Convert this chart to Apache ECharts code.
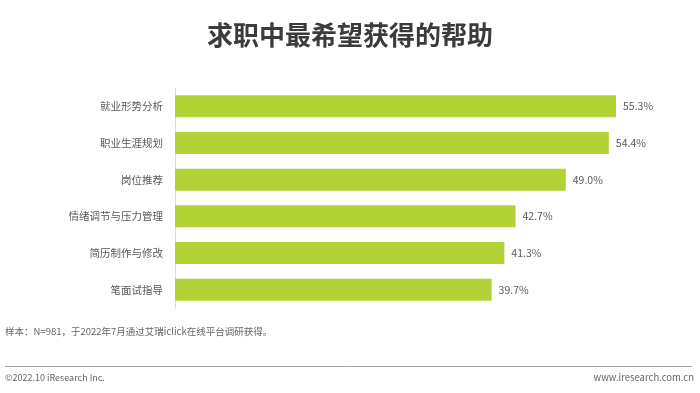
<!DOCTYPE html>
<html>
<head>
<meta charset="utf-8">
<script src="https://cdn.jsdelivr.net/npm/echarts@6/dist/echarts.min.js"></script>
<style>
html,body{margin:0;padding:0;background:#fff;}
#chart{width:700px;height:393px;}
</style>
</head>
<body>
<div id="chart"></div>
<script>
const categories = ['就业形势分析','职业生涯规划','岗位推荐','情绪调节与压力管理','简历制作与修改','笔面试指导'];
const values = [55.3, 54.4, 49.0, 42.7, 41.3, 39.7];
const titleText = '求职中最希望获得的帮助';
const noteText = '样本：N=981，于2022年7月通过艾瑞iclick在线平台调研获得。';
const copyrightText = '©2022.10 iResearch Inc.';
const siteText = 'www.iresearch.com.cn';

const FONT = '"Noto Sans CJK SC", "Noto Sans", sans-serif';
const chart = echarts.init(document.getElementById('chart'), null, {renderer: 'canvas'});
chart.setOption({
  backgroundColor: '#ffffff',
  animation: false,
  title: {
    text: titleText,
    left: 'center',
    top: 17,
    textStyle: {fontFamily: FONT, fontSize: 26, fontWeight: 'bold', color: '#3b3b3b'}
  },
  grid: {left: 175, top: 88, height: 220, width: 478.5, containLabel: false},
  xAxis: {
    type: 'value', min: 0, max: 60, show: false
  },
  yAxis: {
    type: 'category',
    data: categories,
    inverse: true,
    axisLine: {show: true, lineStyle: {color: '#dcdcdc', width: 1}},
    axisTick: {show: false},
    axisLabel: {fontFamily: FONT, fontSize: 10.5, color: '#595959', margin: 12}
  },
  series: [{
    type: 'bar',
    data: values,
    barWidth: 22,
    itemStyle: {color: '#b3d236'},
    label: {
      show: true, position: 'right', distance: 7,
      formatter: p => p.value.toFixed(1) + '%',
      fontFamily: FONT, fontSize: 10.5, color: '#595959'
    }
  }],
  graphic: [
    {type: 'text', left: 5, top: 327, style: {text: noteText, font: '9.5px ' + FONT, fill: '#666'}},
    {type: 'line', shape: {x1: 5, y1: 366.5, x2: 692, y2: 366.5}, style: {stroke: '#a6a6a6', lineWidth: 1}},
    {type: 'text', left: 5, top: 373, style: {text: copyrightText, font: '9px ' + FONT, fill: '#666'}},
    {type: 'text', right: 6, top: 373, style: {text: siteText, font: '9.5px ' + FONT, fill: '#666'}}
  ]
});
</script>
</body>
</html>
